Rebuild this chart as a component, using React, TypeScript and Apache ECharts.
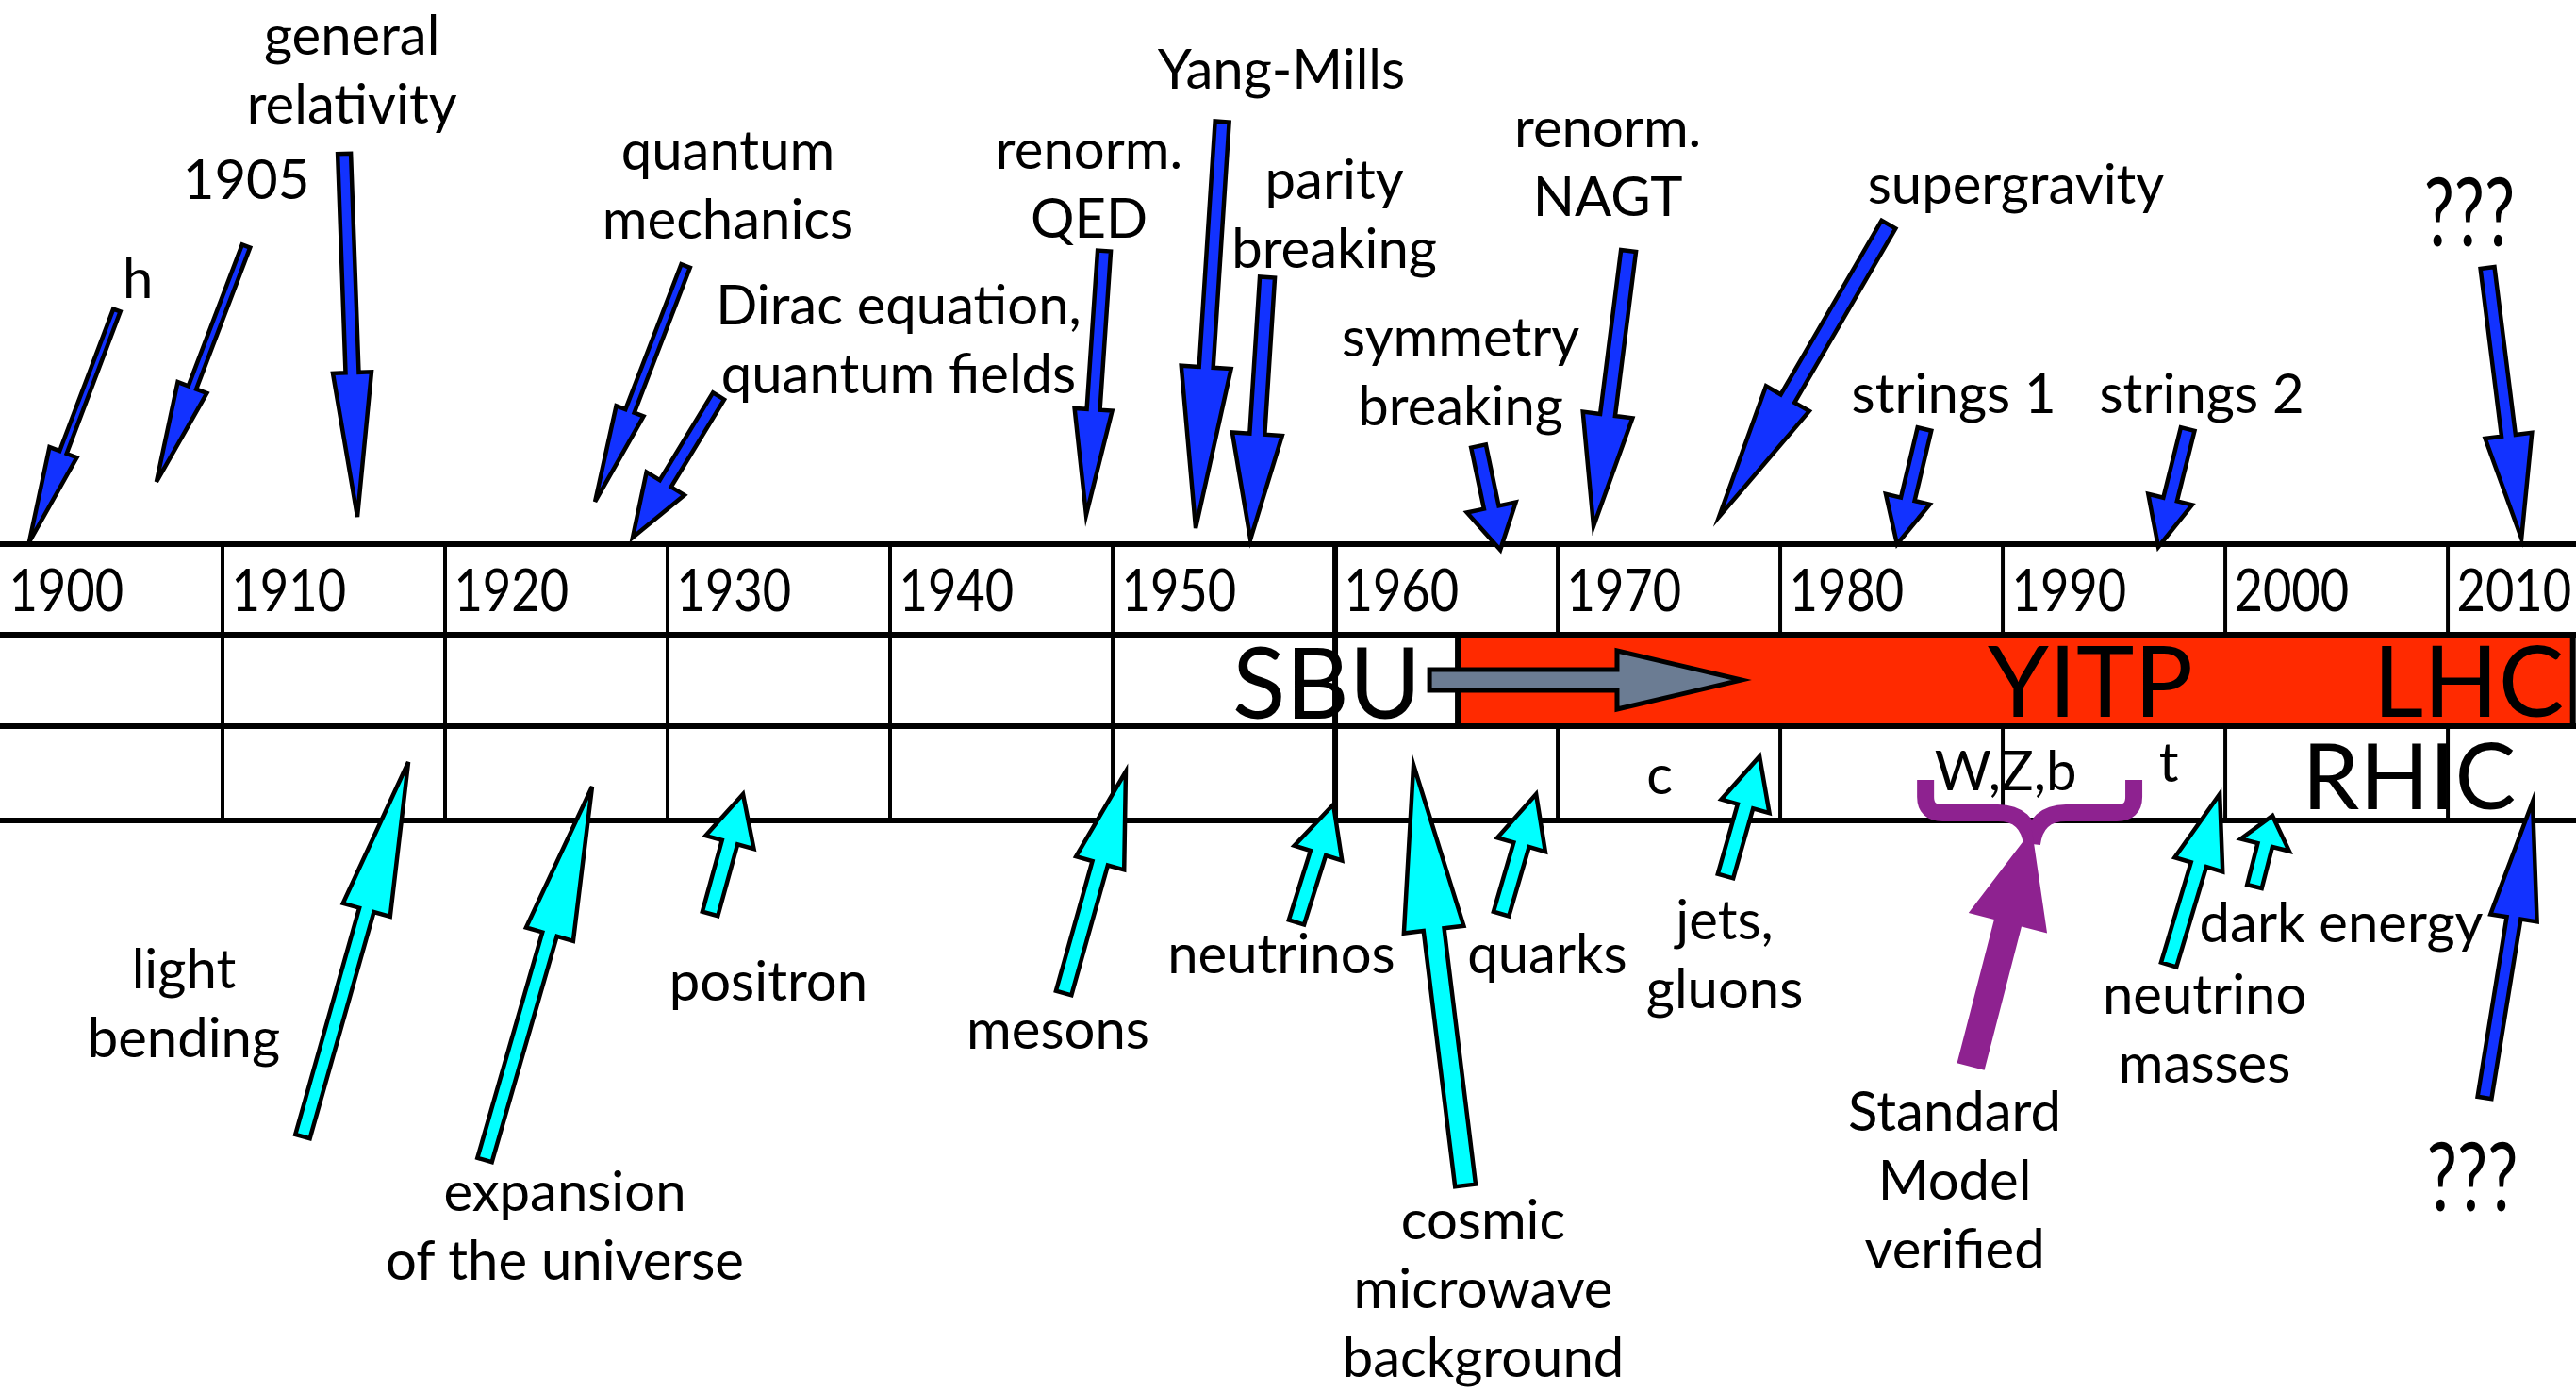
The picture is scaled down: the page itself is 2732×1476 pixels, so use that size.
import React, { useEffect, useRef } from "react";
import * as echarts from "echarts";

// ---- axis extents (years on x, vertical "level" on y) ----
const YEAR_MIN = 1900;
const YEAR_MAX = 2015.76;
const LEVEL_MAX = 1476;

// ---- timeline grid ----
const decades = [1900, 1910, 1920, 1930, 1940, 1950, 1960, 1970, 1980, 1990, 2000, 2010];
const yearLabels = ["1900", "1910", "1920", "1930", "1940", "1950", "1960", "1970", "1980", "1990", "2000", "2010"];
const ruleLevels = [577, 673, 770, 870];
const yearRow = [577, 673];
const placeRow = [673, 770];
const particleRow = [770, 870];
const yearLabelLevel = 624;

// ---- theory milestones (blue arrows pointing down) ----
const theoryLabels = ["h", "1905", "general\nrelativity", "quantum\nmechanics", "Dirac equation,\nquantum fields", "renorm.\nQED", "Yang-Mills", "parity\nbreaking", "symmetry\nbreaking", "renorm.\nNAGT", "supergravity", "strings 1", "strings 2"];
const theoryTailYear = [1905.25, 1911.06, 1915.47, 1930.81, 1932.29, 1949.62, 1954.92, 1956.95, 1966.44, 1973.18, 1984.87, 1986.48, 1998.31];
const theoryTailLevel = [329, 261, 163, 282, 420, 266, 129, 294, 473, 266, 238, 455, 455];
const theoryTipYear = [1901.31, 1907.03, 1916.06, 1926.74, 1928.43, 1948.81, 1953.73, 1956.19, 1967.42, 1971.61, 1977.25, 1985.25, 1996.99];
const theoryTipLevel = [575, 511, 548, 532, 570, 546, 560, 572, 583, 558, 548, 577, 580];
const theoryLabelYear = [1906.19, 1911.06, 1915.81, 1932.71, 1940.38, 1948.94, 1957.58, 1959.96, 1965.64, 1972.25, 1990.59, 1987.8, 1998.94];
const theoryLabelLevel = [293, 188, 71.5, 193.5, 358, 192.5, 71, 224.5, 392, 170, 193, 415, 415];

// ---- experimental discoveries (cyan arrows pointing up) ----
const discoveryLabels = ["light\nbending", "expansion\nof the universe", "positron", "mesons", "neutrinos", "cosmic\nmicrowave\nbackground", "quarks", "jets,\ngluons", "neutrino\nmasses", "dark energy"];
const discoveryTailYear = [1913.6, 1921.78, 1931.91, 1947.8, 1958.26, 1965.85, 1967.46, 1977.54, 1997.46, 2001.31];
const discoveryTailLevel = [1205, 1230, 969, 1053, 978, 1257, 969, 929, 1023, 940];
const discoveryTipYear = [1918.35, 1926.61, 1933.39, 1950.59, 1959.92, 1963.52, 1969.03, 1979.07, 1999.75, 2002.12];
const discoveryTipLevel = [808, 834, 842, 818, 853, 811, 842, 802, 842, 865];
const discoveryLabelYear = [1908.26, 1925.38, 1934.53, 1947.54, 1957.58, 1966.65, 1969.53, 1977.5, 1999.07, 2005.21];
const discoveryLabelLevel = [1061.5, 1297.5, 1038, 1089, 1009, 1364, 1009, 1009.5, 1088.5, 976];

// ---- the unknown future (blue arrows at both ends) ----
const futureLabels = ["???", "???"];
const futureTailYear = [2011.78, 2011.65];
const futureTailLevel = [284, 1164];
const futureTipYear = [2013.31, 2013.81];
const futureTipLevel = [571, 850];
const futureLabelYear = [2010.97, 2011.1];
const futureLabelLevel = [223, 1246];

// ---- Standard Model verified (purple brace + arrow) ----
const smLabels = ["Standard\nModel\nverified"];
const smLabelYear = [1987.84];
const smLabelLevel = [1249];
const smTailYear = [1988.56];
const smTailLevel = [1131];
const smTipYear = [1991.31];
const smTipLevel = [880];
const braceYears = [1986.53, 1991.31, 1995.89];
const braceLevels = [827, 862, 895];

// ---- places / eras ----
const yitpEra = [1965.51, 2015.62];
const moveTailYear = [1964.24];
const moveTipYear = [1978.26];
const moveLevel = [721];
const placeLabels = ["YITP", "LHC"];
const placeLabelYear = [1993.94, 2010.93];
const placeLabelLevel = [719, 719];
const sbuLabels = ["SBU"];
const sbuYear = [1963.86];
const sbuLevel = [721];
const rhicLabels = ["RHIC"];
const rhicYear = [2008.26];
const rhicLevel = [820];

// ---- particles found ----
const particleLabels = ["c", "W,Z,b", "t"];
const particleYear = [1974.58, 1990.13, 1997.46];
const particleLevel = [819, 815, 806];

// ---- styles (shaft width, head width, head length in px) ----
const theoryArrowSize = [
  [8, 31, 102], [9, 33, 107], [14, 41, 153], [10, 31, 103], [14, 47, 67], [14, 40, 112],
  [15, 53, 171], [16, 53, 112], [16, 53, 46], [16, 53, 119], [17, 53, 145], [15, 48, 49], [15, 48, 52],
];
const discoveryArrowSize = [
  [16, 52, 163], [16, 52, 163], [17, 53, 53], [17, 53, 101], [17, 53, 54], [22, 64, 176],
  [17, 53, 56], [17, 53, 55], [17, 53, 78], [16, 53, 32],
];
const futureArrowSize = [[15, 50, 110], [15, 50, 125]];
const smArrowSize = [[30, 86, 102]];
const moveArrowSize = [[22, 62, 132]];

const FONT = "Lato, 'Open Sans', sans-serif";
const BLUE = "#1232ff";
const CYAN = "#00ffff";
const PURPLE = "#8e2290";
const RED = "#ff2a00";
const SLATE = "#6b7c93";

function arrowPoints(a: number[], b: number[], shaft: number, head: number, headLen: number) {
  const dx = b[0] - a[0];
  const dy = b[1] - a[1];
  const len = Math.hypot(dx, dy) || 1;
  const ux = dx / len;
  const uy = dy / len;
  const nx = -uy;
  const ny = ux;
  const bx = b[0] - ux * headLen;
  const by = b[1] - uy * headLen;
  const s = shaft / 2;
  const h = head / 2;
  return [
    [a[0] + nx * s, a[1] + ny * s],
    [bx + nx * s, by + ny * s],
    [bx + nx * h, by + ny * h],
    [b[0], b[1]],
    [bx - nx * h, by - ny * h],
    [bx - nx * s, by - ny * s],
    [a[0] - nx * s, a[1] - ny * s],
  ];
}

function arrowSeries(
  tailYear: number[], tailLevel: number[], tipYear: number[], tipLevel: number[],
  sizes: number[][], fill: string, strokeWidth: number
) {
  return {
    type: "custom",
    silent: true,
    coordinateSystem: "cartesian2d",
    data: tailYear.map((t, i) => [t, tailLevel[i], tipYear[i], tipLevel[i]]),
    encode: { x: [0, 2], y: [1, 3] },
    renderItem: (params: any, api: any) => {
      const a = api.coord([api.value(0), api.value(1)]);
      const b = api.coord([api.value(2), api.value(3)]);
      const [s, h, l] = sizes[params.dataIndex];
      return {
        type: "polygon",
        shape: { points: arrowPoints(a, b, s, h, l) },
        style: strokeWidth > 0
          ? { fill, stroke: "#000", lineWidth: strokeWidth, lineJoin: "miter", miterLimit: 6 }
          : { fill },
      };
    },
  };
}

function labelSeries(
  texts: string[], years: number[], levels: number[], size: number,
  align: string = "center", scaleX: number = 1, lineHeight?: number
) {
  return {
    type: "custom",
    silent: true,
    coordinateSystem: "cartesian2d",
    data: years.map((y, i) => [y, levels[i]]),
    encode: { x: 0, y: 1 },
    renderItem: (params: any, api: any) => {
      const p = api.coord([api.value(0), api.value(1)]);
      return {
        type: "text",
        x: p[0],
        y: p[1],
        scaleX,
        style: {
          text: texts[params.dataIndex],
          fill: "#000",
          fontSize: size,
          fontFamily: FONT,
          align,
          verticalAlign: "middle",
          lineHeight: lineHeight ?? Math.round(size * 1.26),
        },
      };
    },
  };
}

export default function App() {
  const ref = useRef<HTMLDivElement>(null);

  useEffect(() => {
    if (!ref.current) return;
    const chart = echarts.init(ref.current, undefined, { renderer: "svg" });

    const rulesSeries = {
      type: "custom",
      silent: true,
      coordinateSystem: "cartesian2d",
      data: ruleLevels.map((l) => [YEAR_MIN, l]),
      encode: { x: 0, y: 1 },
      renderItem: (params: any, api: any) => {
        const a = api.coord([YEAR_MIN, api.value(1)]);
        const b = api.coord([YEAR_MAX, api.value(1)]);
        return {
          type: "line",
          shape: { x1: a[0], y1: a[1], x2: b[0], y2: b[1] },
          style: { stroke: "#000", lineWidth: 6 },
        };
      },
    };

    const decadeSeries = {
      type: "custom",
      silent: true,
      coordinateSystem: "cartesian2d",
      data: decades.slice(1).map((d) => [d, yearRow[0]]),
      encode: { x: 0, y: 1 },
      renderItem: (params: any, api: any) => {
        const d = api.value(0);
        const w = d === 1960 ? 6 : 4;
        const rows = d <= 1960 ? [yearRow, placeRow, particleRow] : [yearRow, particleRow];
        return {
          type: "group",
          children: rows.map((r) => {
            const a = api.coord([d, r[0]]);
            const b = api.coord([d, r[1]]);
            return {
              type: "line",
              shape: { x1: a[0], y1: a[1], x2: b[0], y2: b[1] },
              style: { stroke: "#000", lineWidth: w },
            };
          }),
        };
      },
    };

    const eraSeries = {
      type: "custom",
      silent: true,
      coordinateSystem: "cartesian2d",
      data: [[yitpEra[0], placeRow[0], yitpEra[1], placeRow[1]]],
      encode: { x: [0, 2], y: [1, 3] },
      renderItem: (params: any, api: any) => {
        const a = api.coord([api.value(0), api.value(1)]);
        const b = api.coord([api.value(2), api.value(3)]);
        return {
          type: "rect",
          shape: { x: a[0], y: a[1], width: b[0] - a[0], height: b[1] - a[1] },
          style: { fill: RED, stroke: "#000", lineWidth: 6 },
        };
      },
    };

    const braceSeries = {
      type: "custom",
      silent: true,
      coordinateSystem: "cartesian2d",
      data: [[braceYears[0], braceLevels[0], braceYears[2], braceLevels[2]]],
      encode: { x: [0, 2], y: [1, 3] },
      renderItem: (params: any, api: any) => {
        const L = api.coord([braceYears[0], braceLevels[0]]);
        const C = api.coord([braceYears[1], braceLevels[2]]);
        const R = api.coord([braceYears[2], braceLevels[0]]);
        const mid = api.coord([braceYears[1], braceLevels[1]])[1];
        const top = L[1];
        const knee = mid - 17;
        const d =
          `M${L[0]},${top} L${L[0]},${knee} Q${L[0]},${mid} ${L[0] + 18},${mid} ` +
          `L${C[0] - 36},${mid} Q${C[0] - 4},${mid} ${C[0]},${C[1]} ` +
          `M${R[0]},${top} L${R[0]},${knee} Q${R[0]},${mid} ${R[0] - 18},${mid} ` +
          `L${C[0] + 36},${mid} Q${C[0] + 4},${mid} ${C[0]},${C[1]}`;
        return {
          type: "path",
          shape: { pathData: d },
          style: { fill: "none", stroke: PURPLE, lineWidth: 18 },
        };
      },
    };

    const option = {
      animation: false,
      backgroundColor: "#ffffff",
      grid: { left: 0, right: 0, top: 0, bottom: 0, containLabel: false },
      xAxis: { type: "value", min: YEAR_MIN, max: YEAR_MAX, show: false },
      yAxis: { type: "value", min: 0, max: LEVEL_MAX, inverse: true, show: false },
      series: [
        rulesSeries,
        decadeSeries,
        eraSeries,
        arrowSeries(moveTailYear, moveLevel, moveTipYear, moveLevel, moveArrowSize, SLATE, 5),
        arrowSeries(theoryTailYear, theoryTailLevel, theoryTipYear, theoryTipLevel, theoryArrowSize, BLUE, 4.5),
        arrowSeries(discoveryTailYear, discoveryTailLevel, discoveryTipYear, discoveryTipLevel, discoveryArrowSize, CYAN, 4.5),
        arrowSeries(futureTailYear, futureTailLevel, futureTipYear, futureTipLevel, futureArrowSize, BLUE, 4.5),
        braceSeries,
        arrowSeries(smTailYear, smTailLevel, smTipYear, smTipLevel, smArrowSize, PURPLE, 0),
        labelSeries(yearLabels, decades.map((d) => d + 0.4), decades.map(() => yearLabelLevel), 61, "left", 0.86, 62),
        labelSeries(theoryLabels, theoryLabelYear, theoryLabelLevel, 58),
        labelSeries(discoveryLabels, discoveryLabelYear, discoveryLabelLevel, 58),
        labelSeries(smLabels, smLabelYear, smLabelLevel, 58),
        labelSeries(futureLabels, futureLabelYear, futureLabelLevel, 100, "center", 0.72, 90),
        labelSeries(particleLabels, particleYear, particleLevel, 58, "center", 1, 56),
        labelSeries(sbuLabels, sbuYear, sbuLevel, 104, "right", 1, 88),
        labelSeries(placeLabels, placeLabelYear, placeLabelLevel, 104, "center", 1, 88),
        labelSeries(rhicLabels, rhicYear, rhicLevel, 97, "center", 1, 84),
      ],
    };

    chart.setOption(option as any);
    return () => chart.dispose();
  }, []);

  return (
    <div
      ref={ref}
      style={{ position: "fixed", left: 0, top: 0, width: 2732, height: 1476, background: "#fff" }}
    />
  );
}
